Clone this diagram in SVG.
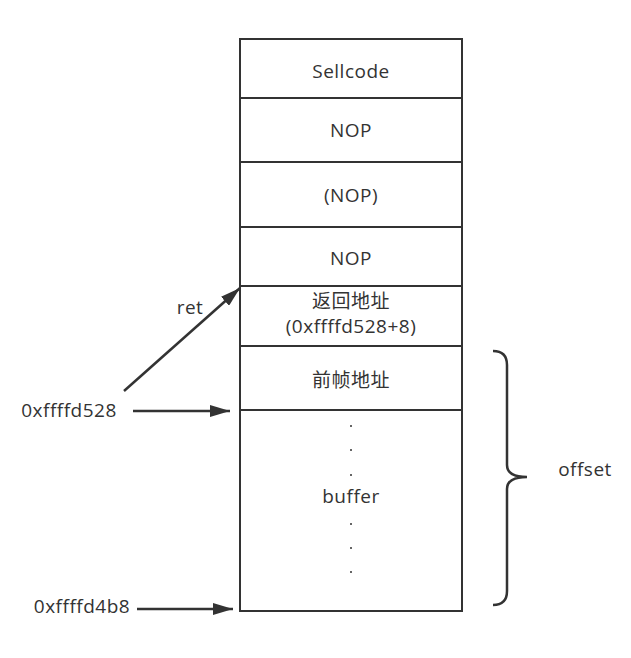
<svg xmlns="http://www.w3.org/2000/svg" width="631" height="658" viewBox="0 0 631 658">
  <style>
    .cell { fill: #ffffff; stroke: #333333; stroke-width: 2; }
    .lbl { font-family: "Open Sans", "Noto Sans CJK SC", sans-serif; font-size: 19px; letter-spacing: 0.5px; fill: #333333; text-anchor: middle; dominant-baseline: central; }
    .edge { stroke: #333333; stroke-width: 2.5; fill: none; }
    .dot { fill: #333333; }
  </style>
  <defs>
    <marker id="head" viewBox="0 0 20 12" refX="20" refY="6" markerWidth="20" markerHeight="12" markerUnits="userSpaceOnUse" orient="auto">
      <path d="M0,0 L20,6 L0,12 z" fill="#333333"/>
    </marker>
  </defs>
  <rect width="631" height="658" fill="#ffffff"/>

  <!-- stack frame cells, top to bottom -->
  <g id="shellcode">
    <rect class="cell" x="240" y="39" width="222" height="59"/>
    <text class="lbl" x="351" y="71">Sellcode</text>
  </g>
  <g id="nop1">
    <rect class="cell" x="240" y="98" width="222" height="64"/>
    <text class="lbl" x="351" y="130">NOP</text>
  </g>
  <g id="nop2">
    <rect class="cell" x="240" y="162" width="222" height="65"/>
    <text class="lbl" x="351" y="195">(NOP)</text>
  </g>
  <g id="nop3">
    <rect class="cell" x="240" y="227" width="222" height="59"/>
    <text class="lbl" x="351" y="258">NOP</text>
  </g>
  <g id="ret-addr">
    <rect class="cell" x="240" y="286" width="222" height="60"/>
    <text class="lbl" x="351" y="301">返回地址</text>
    <text class="lbl" x="351" y="326">(0xffffd528+8)</text>
  </g>
  <g id="prev-frame">
    <rect class="cell" x="240" y="346" width="222" height="64"/>
    <text class="lbl" x="351" y="380">前帧地址</text>
  </g>
  <g id="buffer">
    <rect class="cell" x="240" y="410" width="222" height="201"/>
    <circle class="dot" cx="351" cy="426" r="1"/>
    <circle class="dot" cx="351" cy="450" r="1"/>
    <circle class="dot" cx="351" cy="475" r="1"/>
    <text class="lbl" x="351" y="496">buffer</text>
    <circle class="dot" cx="351" cy="524" r="1"/>
    <circle class="dot" cx="351" cy="548" r="1"/>
    <circle class="dot" cx="351" cy="572" r="1"/>
  </g>

  <!-- side labels -->
  <g id="label-ret">
    <text class="lbl" x="190" y="307">ret</text>
  </g>
  <g id="label-528">
    <text class="lbl" x="69" y="410">0xffffd528</text>
  </g>
  <g id="label-4b8">
    <text class="lbl" x="82" y="606">0xffffd4b8</text>
  </g>
  <g id="label-offset">
    <text class="lbl" x="585" y="469">offset</text>
  </g>

  <!-- connectors -->
  <g id="connectors">
    <line class="edge" x1="124" y1="391" x2="240" y2="288" marker-end="url(#head)"/>
    <line class="edge" x1="133" y1="411" x2="230" y2="411" marker-end="url(#head)"/>
    <line class="edge" x1="137" y1="609" x2="233" y2="609" marker-end="url(#head)"/>
    <path class="edge" d="M493,351 Q507,351 507,365 L507,465 Q507,477 527,477 Q507,477 507,489 L507,591 Q507,605 493,605"/>
  </g>
</svg>
